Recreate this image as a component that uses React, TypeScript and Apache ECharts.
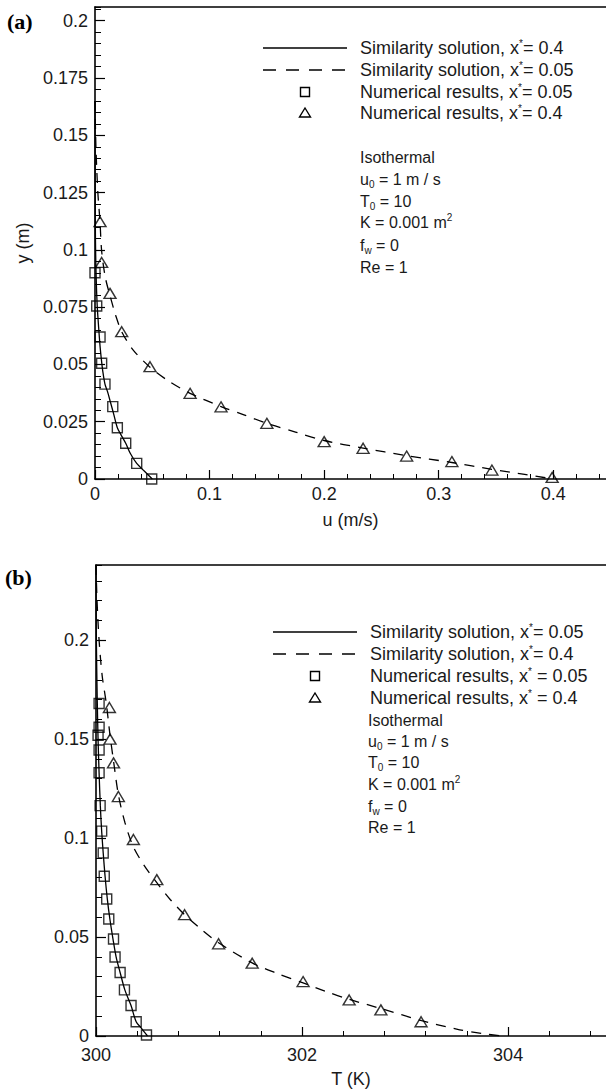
import React, { useEffect, useRef } from "react";
import * as echarts from "echarts";

// ---------- Data: panel (a) velocity profiles ----------
const aSimSolid: [number, number][] = [
  [0.05, 0], [0.043, 0.0035], [0.0364, 0.0068], [0.031, 0.011], [0.0268, 0.0156], [0.0225, 0.0195],
  [0.0195, 0.0224], [0.0165, 0.028], [0.0135, 0.0335], [0.011, 0.038], [0.0087, 0.0414],
  [0.0068, 0.047], [0.0055, 0.0525], [0.0044, 0.058], [0.0032, 0.066], [0.002, 0.075],
  [0.0012, 0.085], [0.0007, 0.095], [0.0004, 0.105], [0.0002, 0.12], [0.0001, 0.14], [0, 0.165],
];
const aSimDashed: [number, number][] = [
  [0, 0.165], [0.0008, 0.145], [0.0025, 0.125], [0.0044, 0.112], [0.0058, 0.0995], [0.009, 0.088],
  [0.0131, 0.08], [0.018, 0.0715], [0.0233, 0.0643], [0.033, 0.0565], [0.048, 0.0488],
  [0.065, 0.0425], [0.083, 0.0374], [0.11, 0.0316], [0.13, 0.028], [0.15, 0.0243],
  [0.175, 0.0205], [0.2, 0.0168], [0.234, 0.0135], [0.272, 0.0102], [0.3115, 0.0072],
  [0.3464, 0.0042], [0.375, 0.002], [0.4, 0],
];
const aSquares: [number, number][] = [
  [0.0495, 0], [0.0364, 0.0068], [0.0268, 0.0156], [0.0195, 0.0224], [0.0155, 0.0316],
  [0.0087, 0.0414], [0.0058, 0.0505], [0.0044, 0.062], [0.0015, 0.0755], [0, 0.09],
];
const aTriangles: [number, number][] = [
  [0.0044, 0.1123], [0.0058, 0.0945], [0.0131, 0.081], [0.0233, 0.0643], [0.048, 0.049],
  [0.083, 0.0374], [0.11, 0.0315], [0.15, 0.0243], [0.2, 0.0163], [0.234, 0.0134],
  [0.272, 0.01], [0.3115, 0.0076], [0.3464, 0.0039], [0.399, 0.0007],
];

// ---------- Data: panel (b) temperature profiles ----------
const bSimSolid: [number, number][] = [
  [300.5, 0], [300.44, 0.004], [300.39, 0.0072], [300.34, 0.0154], [300.28, 0.0233],
  [300.234, 0.0321], [300.195, 0.04], [300.165, 0.049], [300.135, 0.059], [300.11, 0.0692],
  [300.088, 0.0807], [300.07, 0.0925], [300.055, 0.1035], [300.042, 0.1164], [300.03, 0.133],
  [300.02, 0.15], [300.012, 0.17], [300.006, 0.19], [300.002, 0.21], [300, 0.238],
];
const bSimDashed: [number, number][] = [
  [300, 0.238], [300.01, 0.22], [300.03, 0.2], [300.06, 0.182], [300.1, 0.168], [300.136, 0.152],
  [300.17, 0.139], [300.217, 0.122], [300.28, 0.108], [300.363, 0.0955], [300.47, 0.086],
  [300.59, 0.0775], [300.72, 0.069], [300.86, 0.0613], [301.02, 0.054], [301.19, 0.0471],
  [301.52, 0.0368], [301.75, 0.0318], [302.01, 0.0268], [302.23, 0.0225], [302.46, 0.0185],
  [302.77, 0.0138], [303.16, 0.0078], [303.5, 0.0035], [303.75, 0.0012], [303.95, 0],
];
const bSquares: [number, number][] = [
  [300.49, 0.0005], [300.39, 0.0072], [300.34, 0.0154], [300.276, 0.0233], [300.234, 0.0321],
  [300.185, 0.0399], [300.17, 0.049], [300.124, 0.0591], [300.104, 0.0692], [300.08, 0.0807],
  [300.07, 0.0925], [300.055, 0.1035], [300.04, 0.1164], [300.03, 0.133], [300.03, 0.1445],
  [300.02, 0.152], [300.03, 0.156], [300.03, 0.168],
];
const bTriangles: [number, number][] = [
  [300.13, 0.166], [300.136, 0.15], [300.17, 0.138], [300.217, 0.121], [300.363, 0.0993],
  [300.59, 0.079], [300.86, 0.0613], [301.19, 0.0466], [301.516, 0.0368], [302.01, 0.0275],
  [302.457, 0.0182], [302.765, 0.0132], [303.155, 0.0072],
];

// ---------- Labels ----------
const legendA = [
  "Similarity solution, x{s|*}= 0.4",
  "Similarity solution, x{s|*}= 0.05",
  "Numerical results, x{s|*}= 0.05",
  "Numerical results, x{s|*}= 0.4",
];
const legendB = [
  "Similarity solution, x{s|*}= 0.05",
  "Similarity solution, x{s|*}= 0.4",
  "Numerical results, x{s|*} = 0.05",
  "Numerical results, x{s|*} = 0.4",
];
const notes = [
  "Isothermal",
  "u{sub|0} = 1 m / s",
  "T{sub|0} = 10",
  "K = 0.001 m{sup|2}",
  "f{sub|w} = 0",
  "Re = 1",
];

const FONT = "'Liberation Sans', Arial, Helvetica, sans-serif";
const INK = "#1a1a1a";

const richStyles = {
  s: { fontSize: 10, fontFamily: FONT, fill: INK, verticalAlign: "top", lineHeight: 10 },
  sub: { fontSize: 10, fontFamily: FONT, fill: INK, verticalAlign: "bottom", lineHeight: 10 },
  sup: { fontSize: 10, fontFamily: FONT, fill: INK, verticalAlign: "top", lineHeight: 10 },
};

function legendGraphics(lineX1: number, lineX2: number, textX: number, ys: number[], labels: string[]) {
  const cx = (lineX1 + lineX2) / 2;
  const els: any[] = [];
  els.push({ type: "line", shape: { x1: lineX1, y1: ys[0], x2: lineX2, y2: ys[0] }, style: { stroke: "#000", lineWidth: 1.3 } });
  els.push({ type: "line", shape: { x1: lineX1, y1: ys[1], x2: lineX2, y2: ys[1] }, style: { stroke: "#000", lineWidth: 1.3, lineDash: [13, 10] } });
  els.push({ type: "rect", shape: { x: cx - 4.5, y: ys[2] - 4.5, width: 9, height: 9 }, style: { fill: "none", stroke: "#000", lineWidth: 1.4 } });
  els.push({ type: "polygon", shape: { points: [[cx, ys[3] - 5], [cx + 5.5, ys[3] + 4], [cx - 5.5, ys[3] + 4]] }, style: { fill: "none", stroke: "#000", lineWidth: 1.4 } });
  labels.forEach((t, i) => {
    els.push({
      type: "text", x: textX, y: ys[i],
      style: { text: t, fontSize: 18, fontFamily: FONT, fill: INK, verticalAlign: "middle", align: "left", lineHeight: 20, rich: richStyles },
    });
  });
  return els;
}

function noteGraphics(x: number, ys: number[]) {
  return notes.map((t, i) => ({
    type: "text", x, y: ys[i],
    style: { text: t, fontSize: 16, fontFamily: FONT, fill: INK, verticalAlign: "middle", align: "left", lineHeight: 20, rich: richStyles },
  }));
}

function mainX(gridIndex: number, min: number, max: number, interval: number, name: string, margin: number, nameGap: number) {
  return {
    type: "value", gridIndex, position: "bottom", min, max, interval, name, nameLocation: "middle", nameGap,
    nameTextStyle: { fontSize: 18, fontFamily: FONT, color: INK },
    axisLine: { show: true, onZero: false, lineStyle: { color: "#000", width: 1.6 } },
    axisTick: { show: true, inside: true, length: 9, lineStyle: { color: "#000", width: 1.2 } },
    axisLabel: { fontSize: 18, fontFamily: FONT, color: INK, margin, showMaxLabel: false },
    splitLine: { show: false },
  };
}
function minorX(gridIndex: number, min: number, max: number, interval: number) {
  return {
    type: "value", gridIndex, position: "bottom", min, max, interval,
    axisLine: { show: false, onZero: false },
    axisTick: { show: true, inside: true, length: 5, lineStyle: { color: "#000", width: 1 } },
    axisLabel: { show: false }, splitLine: { show: false },
  };
}
function topX(gridIndex: number, min: number, max: number) {
  return {
    type: "value", gridIndex, position: "top", min, max,
    axisLine: { show: true, onZero: false, lineStyle: { color: "#000", width: 1.6 } },
    axisTick: { show: false }, axisLabel: { show: false }, splitLine: { show: false },
  };
}
function mainY(gridIndex: number, max: number, interval: number, name: string) {
  return {
    type: "value", gridIndex, position: "left", min: 0, max, interval, name, nameLocation: "middle", nameGap: 58,
    nameTextStyle: { fontSize: 18, fontFamily: FONT, color: INK },
    axisLine: { show: true, onZero: false, lineStyle: { color: "#000", width: 1.6 } },
    axisTick: { show: true, inside: true, length: 10, lineStyle: { color: "#000", width: 1.2 } },
    axisLabel: { fontSize: 18, fontFamily: FONT, color: INK, margin: 7, showMaxLabel: false },
    splitLine: { show: false },
  };
}
function minorY(gridIndex: number, max: number, interval: number) {
  return {
    type: "value", gridIndex, position: "left", min: 0, max, interval,
    axisLine: { show: false, onZero: false },
    axisTick: { show: true, inside: true, length: 6, lineStyle: { color: "#000", width: 1 } },
    axisLabel: { show: false }, splitLine: { show: false },
  };
}

const openMarker = { color: "rgba(0,0,0,0)", borderColor: "#000", borderWidth: 1.4 };

export default function App() {
  const ref = useRef<HTMLDivElement>(null);
  useEffect(() => {
    if (!ref.current) return;
    const chart = echarts.init(ref.current, undefined, { renderer: "svg" });
    const option: any = {
      animation: false,
      backgroundColor: "#fff",
      grid: [
        { left: 95, top: 7, width: 511, height: 472 },
        { left: 96, top: 565, width: 510, height: 471 },
      ],
      xAxis: [
        mainX(0, 0, 0.446, 0.1, "u (m/s)", 6, 32),
        minorX(0, 0, 0.446, 0.02),
        topX(0, 0, 0.446),
        mainX(1, 300, 304.95, 2, "T (K)", 10, 34),
        minorX(1, 300, 304.95, 0.4),
        topX(1, 300, 304.95),
      ],
      yAxis: [
        mainY(0, 0.206, 0.025, "y (m)"),
        minorY(0, 0.206, 0.005),
        mainY(1, 0.238, 0.05, ""),
        minorY(1, 0.238, 0.01),
      ],
      series: [
        { type: "line", xAxisIndex: 0, yAxisIndex: 0, data: aSimSolid, symbol: "none", smooth: 0.3, lineStyle: { color: "#000", width: 1.3 }, z: 2 },
        { type: "line", xAxisIndex: 0, yAxisIndex: 0, data: aSimDashed, symbol: "none", smooth: 0.3, lineStyle: { color: "#000", width: 1.3, type: [10, 8] }, z: 2 },
        { type: "scatter", xAxisIndex: 0, yAxisIndex: 0, data: aSquares, symbol: "rect", symbolSize: 10, itemStyle: openMarker, z: 3 },
        { type: "scatter", xAxisIndex: 0, yAxisIndex: 0, data: aTriangles, symbol: "triangle", symbolSize: [12, 10], itemStyle: openMarker, z: 3 },
        { type: "line", xAxisIndex: 3, yAxisIndex: 2, data: bSimSolid, symbol: "none", smooth: 0.3, lineStyle: { color: "#000", width: 1.3 }, z: 2 },
        { type: "line", xAxisIndex: 3, yAxisIndex: 2, data: bSimDashed, symbol: "none", smooth: 0.3, lineStyle: { color: "#000", width: 1.3, type: [10, 8] }, z: 2 },
        { type: "scatter", xAxisIndex: 3, yAxisIndex: 2, data: bSquares, symbol: "rect", symbolSize: 10, itemStyle: openMarker, z: 3 },
        { type: "scatter", xAxisIndex: 3, yAxisIndex: 2, data: bTriangles, symbol: "triangle", symbolSize: [12, 10], itemStyle: openMarker, z: 3 },
      ],
      graphic: [
        { type: "text", x: 7, y: 21, style: { text: "(a)", fontSize: 22, fontWeight: "bold", fontFamily: "'Liberation Serif', 'Times New Roman', serif", fill: "#000", verticalAlign: "middle" } },
        { type: "text", x: 5, y: 577, style: { text: "(b)", fontSize: 22, fontWeight: "bold", fontFamily: "'Liberation Serif', 'Times New Roman', serif", fill: "#000", verticalAlign: "middle" } },
        ...legendGraphics(263, 347, 360, [48, 70, 92, 113], legendA),
        ...noteGraphics(360, [157, 179, 201, 222, 245, 267]),
        ...legendGraphics(273, 357, 370, [632, 654, 676, 698], legendB),
        ...noteGraphics(368, [720, 741, 762, 784, 806, 827]),
      ],
    };
    chart.setOption(option);
    return () => chart.dispose();
  }, []);
  return <div ref={ref} style={{ position: "absolute", left: 0, top: 0, width: 606, height: 1092 }} />;
}
